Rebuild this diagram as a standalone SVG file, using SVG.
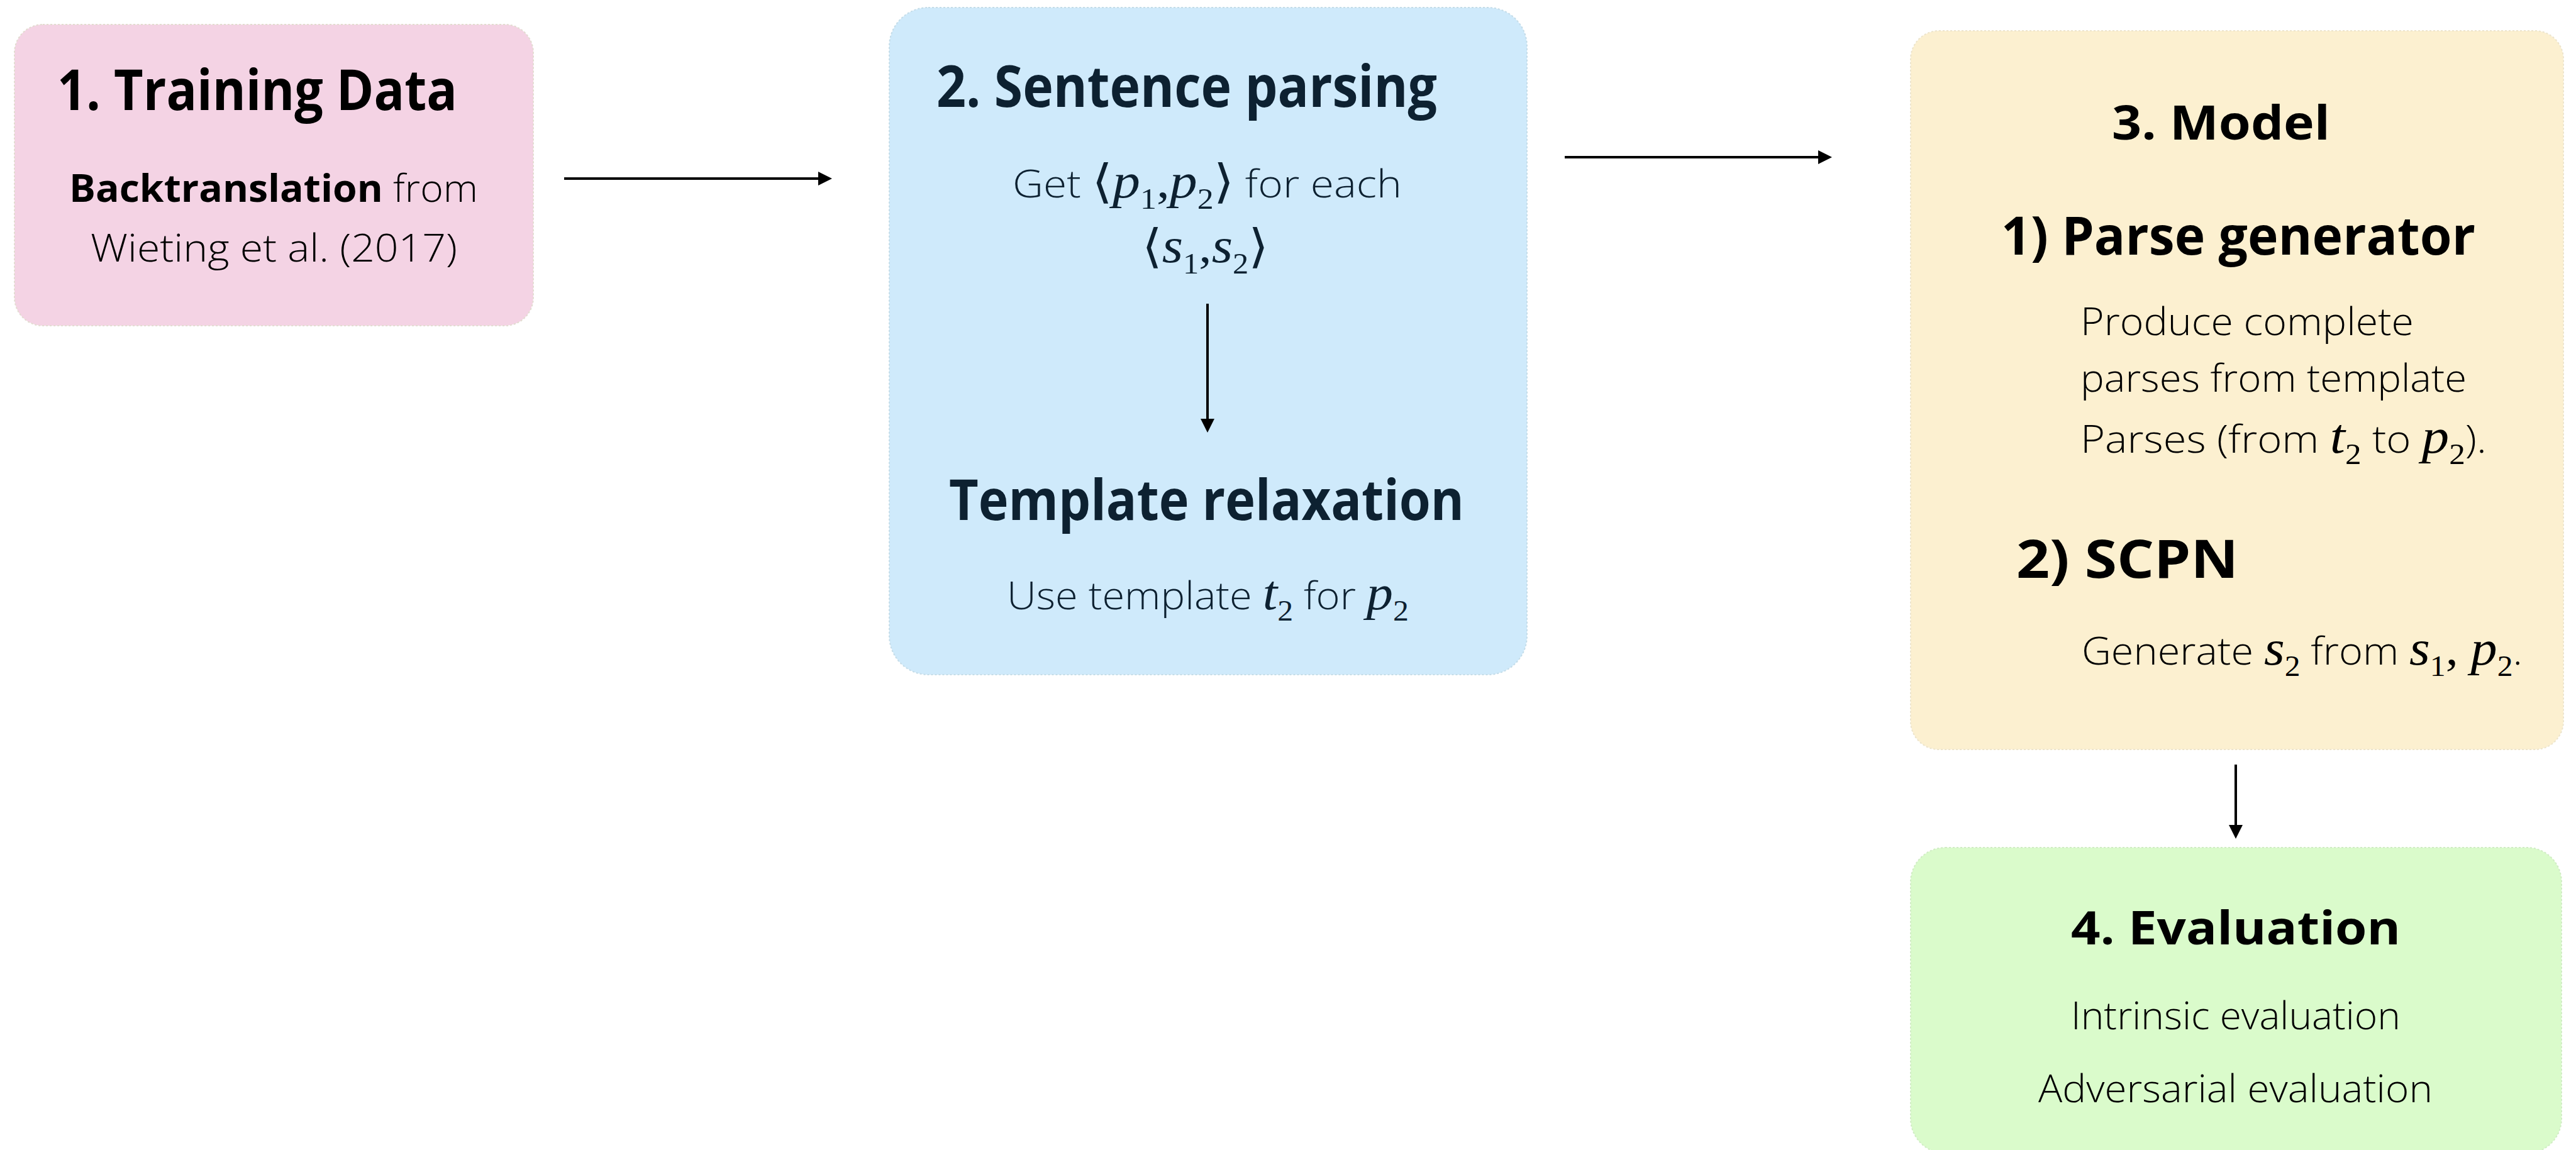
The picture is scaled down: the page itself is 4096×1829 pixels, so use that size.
<svg xmlns="http://www.w3.org/2000/svg" width="4096" height="1829" viewBox="0 0 4096 1829">
  <style>
    .box { stroke-width: 2; stroke-dasharray: 3 3; }
    .h { font-family: "Open Sans", "Lato", "Liberation Sans", sans-serif; font-weight: 700; }
    .t { font-family: "Open Sans", "Lato", "Liberation Sans", sans-serif; font-weight: 300; font-size: 60px; }
    .b { font-weight: 700; }
    .m { font-family: "Liberation Serif", "DejaVu Serif", serif; font-style: normal; font-weight: 400; font-size: 74px; }
    .mi { font-family: "Liberation Serif", "DejaVu Serif", serif; font-style: italic; font-weight: 400; font-size: 78px; }
    .sb { font-family: "Liberation Serif", "DejaVu Serif", serif; font-style: normal; font-weight: 400; font-size: 46px; }
    .ink { fill: #000000; }
    .navy { fill: #0d2131; }
    .conn { stroke: #000000; stroke-width: 4; fill: none; }
  </style>
  <defs>
    <marker id="head" viewBox="0 0 22 22" refX="0" refY="11" markerWidth="22" markerHeight="22" orient="auto" markerUnits="userSpaceOnUse">
      <path d="M0,0 L22,11 L0,22 Z" fill="#000000"/>
    </marker>
  </defs>

  <rect width="4096" height="1829" fill="#ffffff"/>

  <!-- Step 1 -->
  <g id="node-training-data">
    <rect class="box" x="23" y="39" width="825" height="479" rx="45" fill="#f4d3e4" stroke="#e2dcd0"/>
    <text class="h ink" x="91" y="175" font-size="90" textLength="636" lengthAdjust="spacingAndGlyphs">1. Training Data</text>
    <text class="t ink" x="110" y="321" textLength="650" lengthAdjust="spacingAndGlyphs"><tspan class="b">Backtranslation</tspan> from</text>
    <text class="t ink" x="144" y="416" textLength="583" lengthAdjust="spacingAndGlyphs">Wieting et al. (2017)</text>
  </g>

  <!-- Step 2 -->
  <g id="node-sentence-parsing">
    <rect class="box" x="1414" y="12" width="1014" height="1061" rx="62" fill="#cfeafb" stroke="#c4dce8"/>
    <text class="h navy" x="1489" y="170" font-size="91" textLength="796" lengthAdjust="spacingAndGlyphs">2. Sentence parsing</text>
    <text class="t navy" x="1610" y="314" textLength="619" lengthAdjust="spacingAndGlyphs">Get <tspan class="m">⟨</tspan><tspan class="mi">p</tspan><tspan class="sb" dy="18">1</tspan><tspan class="m" dy="-18">,</tspan><tspan class="mi">p</tspan><tspan class="sb" dy="18">2</tspan><tspan class="m" dy="-18">⟩</tspan> for each</text>
    <text class="t navy" x="1816" y="417" textLength="201" lengthAdjust="spacingAndGlyphs"><tspan class="m">⟨</tspan><tspan class="mi">s</tspan><tspan class="sb" dy="18">1</tspan><tspan class="m" dy="-18">,</tspan><tspan class="mi">s</tspan><tspan class="sb" dy="18">2</tspan><tspan class="m" dy="-18">⟩</tspan></text>
    <text class="h navy" x="1509" y="827" font-size="89" textLength="819" lengthAdjust="spacingAndGlyphs">Template relaxation</text>
    <text class="t navy" x="1601" y="969" textLength="639" lengthAdjust="spacingAndGlyphs">Use template <tspan class="mi">t</tspan><tspan class="sb" dy="18">2</tspan><tspan dy="-18"> for </tspan><tspan class="mi">p</tspan><tspan class="sb" dy="18">2</tspan></text>
  </g>

  <!-- Step 3 -->
  <g id="node-model">
    <rect class="box" x="3038" y="49" width="1038" height="1143" rx="45" fill="#fcf0d0" stroke="#ece4cc"/>
    <text class="h ink" x="3358" y="222" font-size="76" textLength="347" lengthAdjust="spacingAndGlyphs">3. Model</text>
    <text class="h ink" x="3182" y="405" font-size="84" textLength="754" lengthAdjust="spacingAndGlyphs">1) Parse generator</text>
    <text class="t ink" x="3308" y="533" textLength="530" lengthAdjust="spacingAndGlyphs">Produce complete</text>
    <text class="t ink" x="3308" y="623" textLength="614" lengthAdjust="spacingAndGlyphs">parses from template</text>
    <text class="t ink" x="3308" y="720" textLength="646" lengthAdjust="spacingAndGlyphs">Parses (from <tspan class="mi">t</tspan><tspan class="sb" dy="18">2</tspan><tspan dy="-18"> to </tspan><tspan class="mi">p</tspan><tspan class="sb" dy="18">2</tspan><tspan dy="-18">).</tspan></text>
    <text class="h ink" x="3206" y="919" font-size="84" textLength="353" lengthAdjust="spacingAndGlyphs">2) SCPN</text>
    <text class="t ink" x="3310" y="1057" textLength="701" lengthAdjust="spacingAndGlyphs">Generate <tspan class="mi">s</tspan><tspan class="sb" dy="18">2</tspan><tspan dy="-18"> from </tspan><tspan class="mi">s</tspan><tspan class="sb" dy="18">1</tspan><tspan class="m" dy="-18">, </tspan><tspan class="mi">p</tspan><tspan class="sb" dy="18">2</tspan><tspan dy="-18">.</tspan></text>
  </g>

  <!-- Step 4 -->
  <g id="node-evaluation">
    <rect class="box" x="3038" y="1348" width="1035" height="486" rx="55" fill="#dafbcb" stroke="#d0ecc4"/>
    <text class="h ink" x="3293" y="1502" font-size="74" textLength="524" lengthAdjust="spacingAndGlyphs">4. Evaluation</text>
    <text class="t ink" x="3293" y="1637" font-size="62" textLength="524" lengthAdjust="spacingAndGlyphs">Intrinsic evaluation</text>
    <text class="t ink" x="3241" y="1753" font-size="62" textLength="627" lengthAdjust="spacingAndGlyphs">Adversarial evaluation</text>
  </g>

  <!-- Connectors -->
  <g id="connectors">
    <line class="conn" x1="897" y1="284" x2="1301" y2="284" marker-end="url(#head)"/>
    <line class="conn" x1="2488" y1="250" x2="2891" y2="250" marker-end="url(#head)"/>
    <line class="conn" x1="1920" y1="483" x2="1920" y2="666" marker-end="url(#head)"/>
    <line class="conn" x1="3555" y1="1216" x2="3555" y2="1312" marker-end="url(#head)"/>
  </g>
</svg>
